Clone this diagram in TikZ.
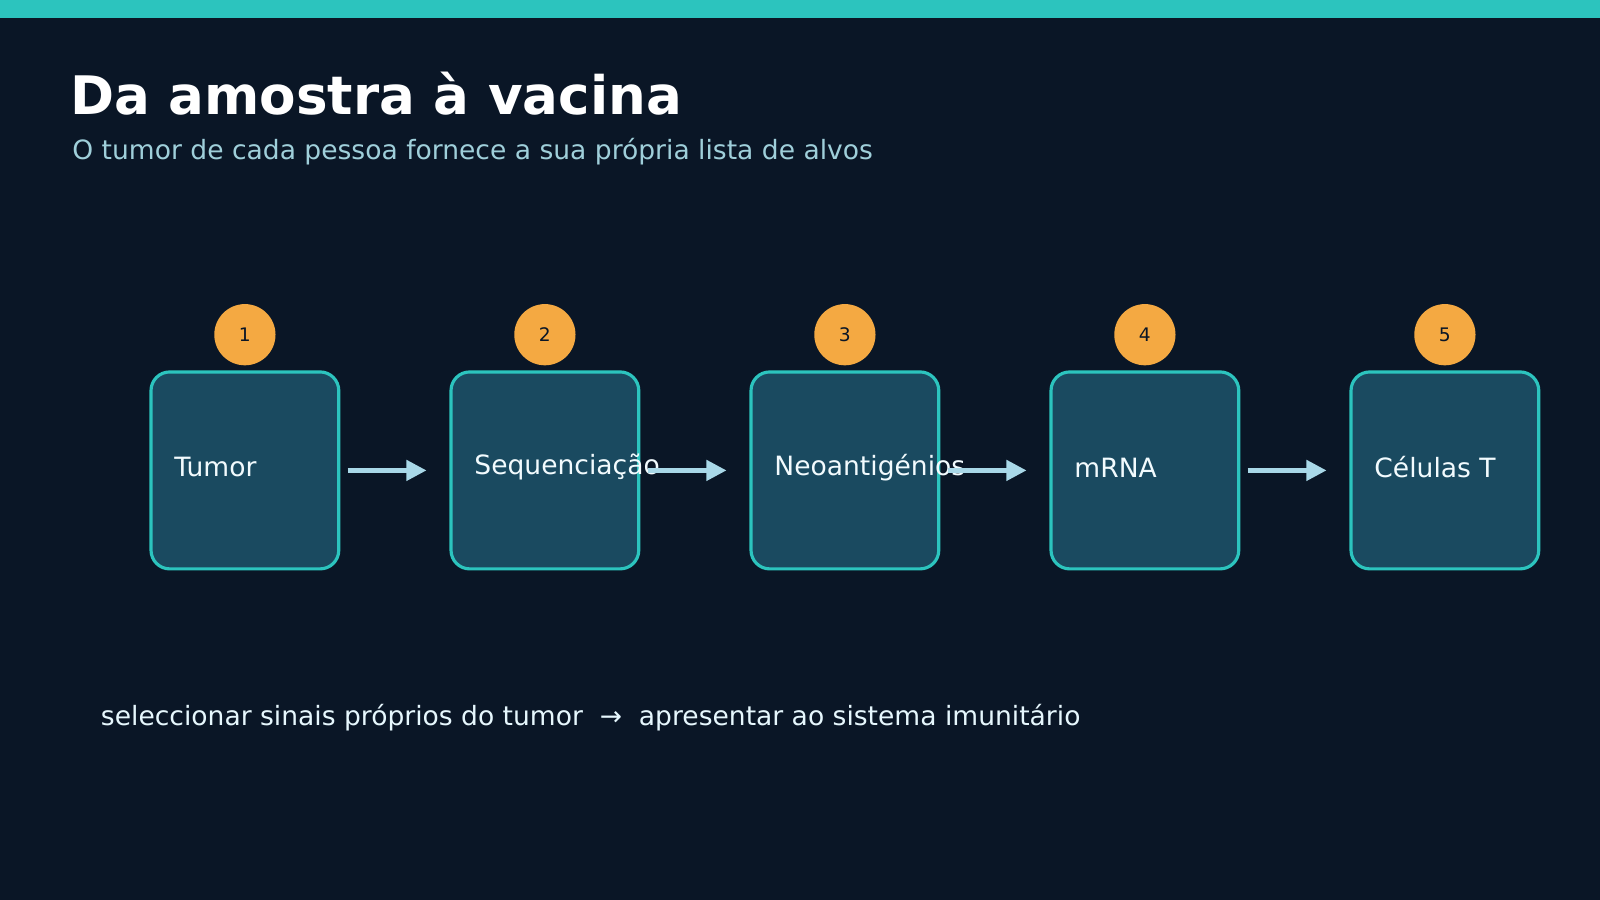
\documentclass[tikz,border=0pt]{standalone}
\usepackage{fontspec}
\setmainfont{DejaVu Sans}
\usetikzlibrary{arrows.meta}
\definecolor{bg}{HTML}{0A1626}
\definecolor{teal}{HTML}{2CC4BE}
\definecolor{boxf}{HTML}{1A4A60}
\definecolor{orng}{HTML}{F4A942}
\definecolor{arr}{HTML}{A9D8E8}
\definecolor{sub}{HTML}{9FCFDA}
\begin{document}
\begin{tikzpicture}[x=0.025cm,y=-0.025cm,
 box/.style={draw=teal,line width=2.2pt,fill=boxf,rounded corners=13pt,minimum width=184*0.025cm,minimum height=193*0.025cm},
 lbl/.style={anchor=west,text=white!95!cyan,font=\fontsize{18.5}{20}\selectfont},
 badge/.style={circle,fill=orng,minimum size=60*0.025cm,inner sep=0pt,text=bg,font=\fontsize{13}{14}\selectfont},
 conn/.style={draw=arr,line width=3pt,-{Triangle[length=14pt,width=14pt]},shorten <=5,shorten >=2}]
\useasboundingbox (0,0) rectangle (1568,882);
\fill[bg] (0,0) rectangle (1568,882);
\fill[teal] (0,0) rectangle (1568,18);
\node[anchor=west,text=white,font=\bfseries\fontsize{37}{40}\selectfont] (title) at (64,92) {Da amostra à vacina};
\node[anchor=west,text=sub,font=\fontsize{18.5}{20}\selectfont] (subt) at (66,149) {O tumor de cada pessoa fornece a sua própria lista de alvos};
\foreach \i/\x/\t in {1/240/Tumor,2/534/Sequenciação,3/828/Neoantigénios,4/1122/mRNA,5/1416/Células T}{
 \node[box] (b\i) at (\x,461) {};
 \node[badge] (c\i) at (\x,328) {\i};
}
\foreach \i/\x/\t in {1/240/Tumor,2/534/Sequenciação,3/828/Neoantigénios,4/1122/mRNA,5/1416/Células T}{
 \node[lbl] (t\i) at (\x-74,458) {\t};
}
\coordinate (e1) at (428,461);
\foreach \a/\b in {1/2,2/3,3/4,4/5}{
 \draw[conn] (b\a.east) -- ([xshift=-14]b\b.west);
}
\node[anchor=west,text=white!90!cyan,font=\fontsize{18.5}{20}\selectfont] (foot) at (94,703) {seleccionar sinais próprios do tumor \ → \ apresentar ao sistema imunitário};
\end{tikzpicture}
\end{document}
